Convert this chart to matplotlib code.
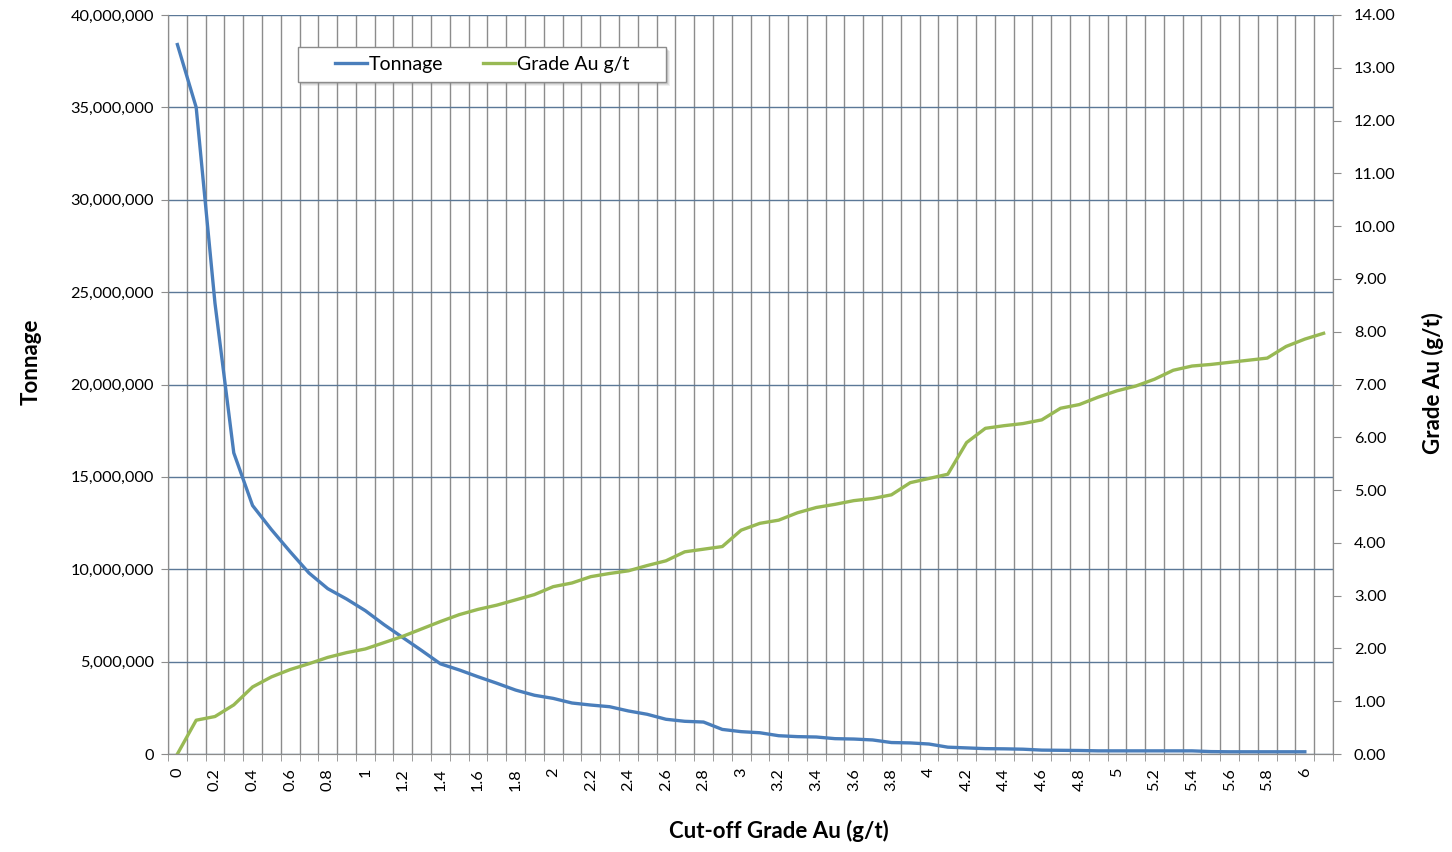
import matplotlib
matplotlib.use("Agg")
import matplotlib.pyplot as plt
from matplotlib.patches import Rectangle
from matplotlib.ticker import FuncFormatter

plt.rcParams['font.family'] = ['Lato', 'DejaVu Sans']

# cut-off grade categories (g/t)
cutoff = [0, 0.1, 0.2, 0.3, 0.4, 0.5, 0.6, 0.7, 0.8, 0.9,
          1, 1.1, 1.2, 1.3, 1.4, 1.5, 1.6, 1.7, 1.8, 1.9,
          2, 2.1, 2.2, 2.3, 2.4, 2.5, 2.6, 2.7, 2.8, 2.9,
          3, 3.1, 3.2, 3.3, 3.4, 3.5, 3.6, 3.7, 3.8, 3.9,
          4, 4.1, 4.2, 4.3, 4.4, 4.5, 4.6, 4.7, 4.8, 4.9,
          5, 5.1, 5.2, 5.3, 5.4, 5.5, 5.6, 5.7, 5.8, 5.9,
          6, 6.1]

# tonnage (t), one value per cut-off up to 6.0
tonnage = [38.4e6, 35.0e6, 24.4e6, 16.3e6, 13.45e6, 12.15e6, 10.95e6, 9.8e6, 8.95e6, 8.39e6,
           7.76e6, 7.0e6, 6.3e6, 5.6e6, 4.88e6, 4.55e6, 4.18e6, 3.83e6, 3.46e6, 3.18e6,
           3.01e6, 2.76e6, 2.65e6, 2.56e6, 2.33e6, 2.15e6, 1.88e6, 1.77e6, 1.73e6, 1.33e6,
           1.21e6, 1.15e6, 0.99e6, 0.94e6, 0.92e6, 0.83e6, 0.81e6, 0.76e6, 0.62e6, 0.60e6,
           0.54e6, 0.37e6, 0.33e6, 0.29e6, 0.28e6, 0.26e6, 0.21e6, 0.20e6, 0.19e6, 0.17e6,
           0.17e6, 0.17e6, 0.17e6, 0.17e6, 0.17e6, 0.13e6, 0.12e6, 0.12e6, 0.12e6, 0.12e6,
           0.12e6]

# average grade above cut-off (g/t)
grade = [0, 0.64, 0.71, 0.93, 1.27, 1.46, 1.60, 1.71, 1.83, 1.92,
         1.99, 2.11, 2.23, 2.37, 2.51, 2.64, 2.74, 2.82, 2.92, 3.02,
         3.17, 3.24, 3.36, 3.42, 3.47, 3.57, 3.66, 3.83, 3.88, 3.93,
         4.24, 4.37, 4.43, 4.57, 4.67, 4.73, 4.80, 4.84, 4.91, 5.14,
         5.22, 5.30, 5.90, 6.17, 6.22, 6.26, 6.33, 6.55, 6.62, 6.76,
         6.88, 6.97, 7.10, 7.27, 7.35, 7.38, 7.42, 7.46, 7.50, 7.72,
         7.86, 7.97]

BLUE = '#4A7EBB'
GREEN = '#98B954'
GRID_V = '#8C8C8C'
GRID_H = '#5B7897'
AXC = '#8C8C8C'

fig = plt.figure(figsize=(14.52, 8.52), dpi=100)
ax = fig.add_axes([168 / 1452, 1 - 754 / 852, 1165 / 1452, 739 / 852])
ax2 = ax.twinx()

n = len(cutoff)
xs = list(range(n))
ax.plot(xs[:len(tonnage)], tonnage, color=BLUE, lw=2.4, label='Tonnage', solid_joinstyle='round')
ax2.plot(xs, grade, color=GREEN, lw=2.4, label='Grade Au g/t', solid_joinstyle='round')

ax.set_xlim(-0.5, n - 0.5)
ax.set_ylim(0, 40e6)
ax2.set_ylim(0, 14)
ax.set_yticks([i * 5e6 for i in range(9)])
ax2.set_yticks(range(15))
ax.yaxis.set_major_formatter(FuncFormatter(lambda v, p: f'{int(v):,}'))
ax2.yaxis.set_major_formatter(FuncFormatter(lambda v, p: f'{v:.2f}'))

# category boundaries as minor ticks / vertical gridlines
bounds = [i - 0.5 for i in range(n + 1)]
ax.set_xticks(bounds, minor=True)
ax.set_xticks(xs[::2])
ax.set_xticklabels([f'{c:g}' for c in cutoff[::2]], rotation=90, fontsize=11.7)
ax.tick_params(axis='x', which='major', length=0, pad=10)
ax.tick_params(axis='x', which='minor', length=5, color=AXC, direction='out')
ax.grid(True, axis='x', which='minor', color=GRID_V, lw=1)
ax.grid(True, axis='y', which='major', color=GRID_H, lw=1)
ax.set_axisbelow(True)

ax.tick_params(axis='y', length=5, color=AXC, labelsize=11.7, pad=5)
ax2.tick_params(axis='y', length=6, color=AXC, labelsize=11.7, pad=9)

for a in (ax, ax2):
    for s in a.spines.values():
        s.set_color(AXC)
    a.spines['top'].set_visible(False)

fig.text(31 / 1452, 1 - 362 / 852, 'Tonnage', rotation=90, ha='center', va='center',
         fontsize=16, fontweight='bold')
fig.text(1433 / 1452, 1 - 383 / 852, 'Grade Au (g/t)', rotation=90, ha='center', va='center',
         fontsize=16, fontweight='bold')
fig.text(779 / 1452, 1 - 831 / 852, 'Cut-off Grade Au (g/t)', ha='center', va='center',
         fontsize=16, fontweight='bold')

# legend box with soft shadow
bx0, bx1 = (298 - 168) / 1165, (666 - 168) / 1165
by0, by1 = (754 - 82) / 739, (754 - 47) / 739
for k, al in ((4, 0.12), (3, 0.18), (2, 0.25)):
    ax2.add_patch(Rectangle((bx0 + k / 1165, by0 - k / 739), bx1 - bx0, by1 - by0,
                            transform=ax2.transAxes, facecolor='#888888', edgecolor='none',
                            alpha=al, zorder=5))
ax2.add_patch(Rectangle((bx0, by0), bx1 - bx0, by1 - by0, transform=ax2.transAxes,
                        facecolor='white', edgecolor='#8C8C8C', lw=1, zorder=6))
h1, l1 = ax.get_legend_handles_labels()
h2, l2 = ax2.get_legend_handles_labels()
leg = ax2.legend(h1 + h2, l1 + l2, loc='center', bbox_to_anchor=((bx0 + bx1) / 2, (by0 + by1) / 2),
                 ncol=2, frameon=False, fontsize=14, handlelength=1.65, handletextpad=0.12,
                 columnspacing=2.0)
leg.set_zorder(7)

fig.savefig('out.png', dpi=100)
